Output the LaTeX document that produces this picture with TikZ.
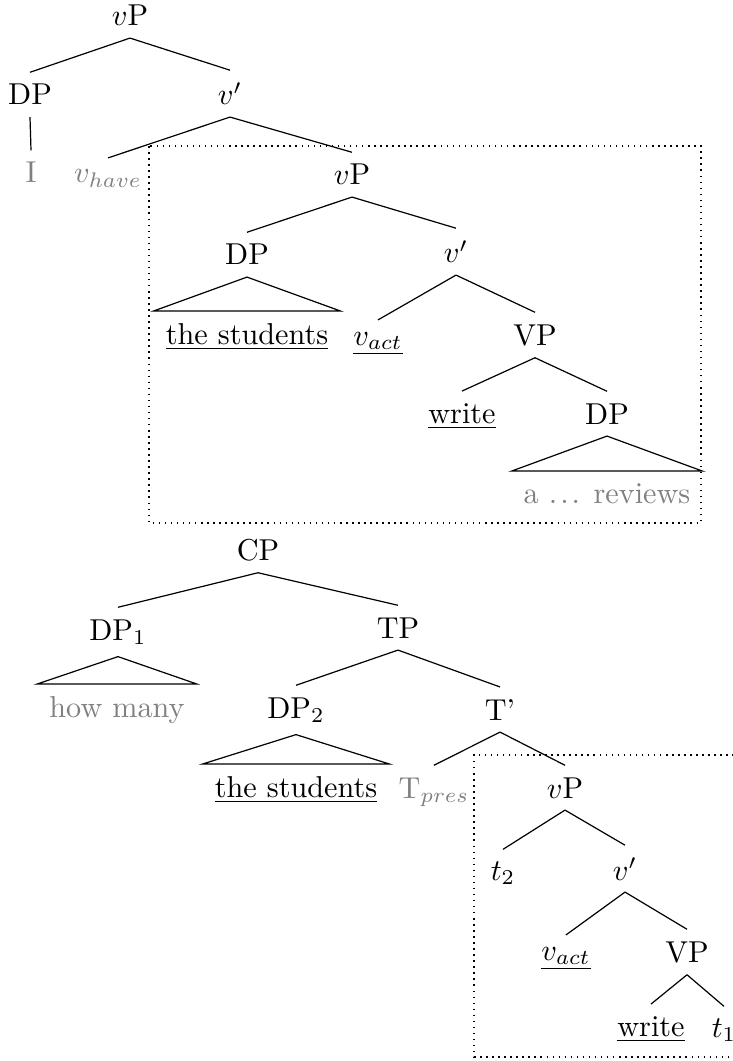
\documentclass[tikz,border=0pt]{standalone}
\definecolor{tracegray}{gray}{0.5}

\begin{document}
\begin{tikzpicture}[x=0.331pt, y=-0.331pt,
  lbl/.style={anchor=base, inner sep=3.8pt},
  low/.style={lbl, text=tracegray},
  frame/.style={dash pattern=on 0.5pt off 1.5pt}]
  \useasboundingbox (0,0) rectangle (733,1061);
  % upper tree
  \node[lbl] (vPa) at (130,26) {$v$P};
  \node[lbl] (DPa) at (30,105) {DP};
  \node[lbl] (vbara) at (230,105) {$v'$};
  \node[low] (Ia) at (31,183) {I};
  \node[low] (vhave) at (108,183) {$v_{have}$};
  \node[lbl] (vPb) at (352,185) {$v$P};
  \node[lbl] (DPb) at (247,265) {DP};
  \node[lbl] (vbarb) at (456,263) {$v'$};
  \node[lbl] (studa) at (247,344) {\underline{the students}};
  \node[lbl] (vacta) at (378,345) {\underline{$v_{act}$}};
  \node[lbl] (VPa) at (535,345) {VP};
  \node[lbl] (writea) at (462,423) {\underline{write}};
  \node[lbl] (DPc) at (607,424) {DP};
  \node[low] (reviews) at (607,503) {a .\hspace{0.1em}.\hspace{0.1em}. reviews};
  \path
  (vPa.south) edge (DPa.north)
              edge (vbara.north)
  (DPa.south) edge (Ia.north)
  (vbara.south) edge (vhave.north)
                edge (vPb.north)
  (vPb.south) edge (DPb.north)
              edge (vbarb.north)
  (vbarb.south) edge (vacta.north)
                edge (VPa.north)
  (VPa.south) edge (writea.north)
              edge (DPc.north);
  \draw (DPb.south) -- (studa.north west) -- (studa.north east) -- cycle;
  \draw (DPc.south) -- (reviews.north west) -- (reviews.north east) -- cycle;
  \draw[frame] (149,146) rectangle (701,523);
  % lower tree
  \node[lbl] (CP) at (258,560) {CP};
  \node[lbl] (DP1) at (118,640) {DP$_1$};
  \node[lbl] (TP) at (398,638) {TP};
  \node[low] (howmany) at (117,717) {how many};
  \node[lbl] (DP2) at (296,718) {DP$_2$};
  \node[lbl] (Tbar) at (500,720) {T'};
  \node[lbl] (studb) at (296,797) {\underline{the students}};
  \node[low] (Tpres) at (434,798) {$\mathrm{T}_{pres}$};
  \node[lbl] (vPc) at (565,798) {$v$P};
  \node[lbl] (t2) at (503,880) {$t_2$};
  \node[lbl] (vbarc) at (625,880) {$v'$};
  \node[lbl] (vactb) at (566,960) {\underline{$v_{act}$}};
  \node[lbl] (VPb) at (687,962) {VP};
  \node[lbl] (writeb) at (651,1036) {\underline{write}};
  \node[lbl] (t1) at (724,1037) {$t_1$};
  \path
  (CP.south) edge (DP1.north)
             edge (TP.north)
  (TP.south) edge (DP2.north)
             edge (Tbar.north)
  (Tbar.south) edge (Tpres.north)
               edge (vPc.north)
  (vPc.south) edge (t2.north)
              edge (vbarc.north)
  (vbarc.south) edge (vactb.north)
                edge (VPb.north)
  (VPb.south) edge (writeb.north)
              edge (t1.north);
  \draw (DP1.south) -- (howmany.north west) -- (howmany.north east) -- cycle;
  \draw (DP2.south) -- (studb.north west) -- (studb.north east) -- cycle;
  \draw[frame] (740,755) -- (474,755) -- (474,1057) -- (740,1057);
\end{tikzpicture}
\end{document}
